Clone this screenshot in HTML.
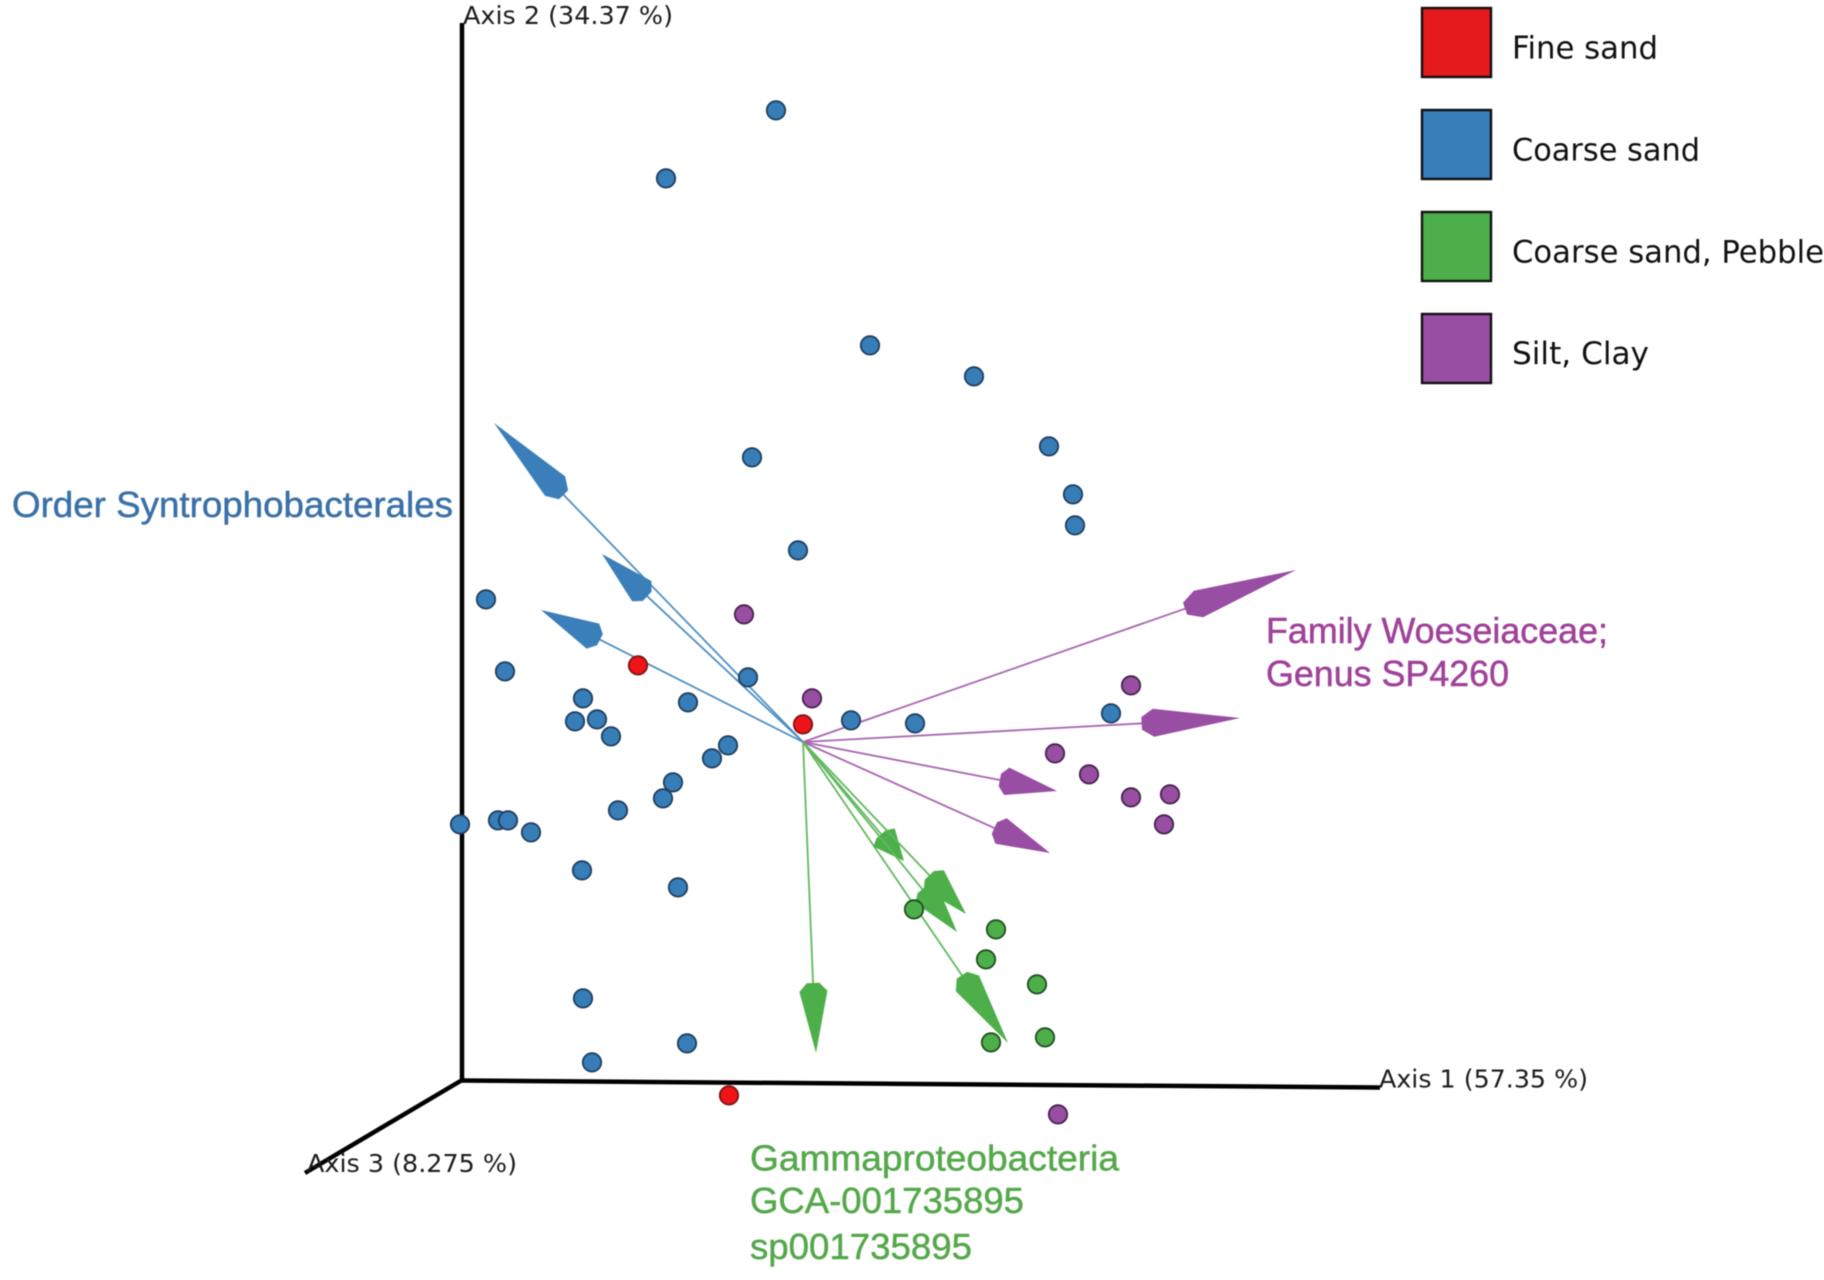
<!DOCTYPE html>
<html lang="en">
<head>
<meta charset="utf-8">
<title>PCoA biplot by sediment type</title>
<style>
html,body{margin:0;padding:0;background:#fff;}
svg{display:block;filter:blur(0.45px);}
.axis-label{font-family:"DejaVu Sans",sans-serif;font-size:25px;fill:#1c1c1c;}
.legend-label{font-family:"DejaVu Sans",sans-serif;font-size:31px;fill:#111;}
.annotation{font-family:"Liberation Sans",sans-serif;font-size:36px;stroke-width:0.5px;}
</style>
</head>
<body>
<svg id="chart" width="1824" height="1280" viewBox="0 0 1824 1280" xmlns="http://www.w3.org/2000/svg">
  <rect width="1824" height="1280" fill="#fff"/>
  <g id="axes">
    <line x1="462" y1="23" x2="462" y2="1080" stroke="#000" stroke-width="4.5"/>
    <line x1="460" y1="1080.5" x2="1380" y2="1087.5" stroke="#000" stroke-width="4.5"/>
    <line x1="463" y1="1079.5" x2="305" y2="1173" stroke="#000" stroke-width="4.5"/>
    <text class="axis-label" x="463" y="24" textLength="210" lengthAdjust="spacingAndGlyphs">Axis 2 (34.37 %)</text>
    <text class="axis-label" x="1379" y="1087.5" textLength="209" lengthAdjust="spacingAndGlyphs">Axis 1 (57.35 %)</text>
    <text class="axis-label" x="307" y="1172" textLength="210" lengthAdjust="spacingAndGlyphs">Axis 3 (8.275 %)</text>
  </g>
  <g id="arrows"></g>
  <g id="points"></g>
  <g id="annotations">
    <text class="annotation" x="12" y="517" fill="#3a71a8" stroke="#3a71a8" textLength="441" lengthAdjust="spacingAndGlyphs">Order Syntrophobacterales</text>
    <text class="annotation" x="1266" y="643" fill="#a0419a" stroke="#a0419a" textLength="342" lengthAdjust="spacingAndGlyphs">Family Woeseiaceae;</text>
    <text class="annotation" x="1266" y="686" fill="#a0419a" stroke="#a0419a" textLength="243" lengthAdjust="spacingAndGlyphs">Genus SP4260</text>
    <text class="annotation" x="750" y="1170.5" fill="#55a84b" stroke="#55a84b" textLength="369" lengthAdjust="spacingAndGlyphs">Gammaproteobacteria</text>
    <text class="annotation" x="750" y="1213" fill="#55a84b" stroke="#55a84b" textLength="274" lengthAdjust="spacingAndGlyphs">GCA-001735895</text>
    <text class="annotation" x="750" y="1259" fill="#55a84b" stroke="#55a84b" textLength="222" lengthAdjust="spacingAndGlyphs">sp001735895</text>
  </g>
  <g id="legend">
    <g>
      <rect x="1422" y="8" width="69" height="69" fill="#e41a1c" stroke="#111" stroke-width="2.4"/>
      <text class="legend-label" x="1512" y="58.5" textLength="146" lengthAdjust="spacingAndGlyphs">Fine sand</text>
    </g>
    <g>
      <rect x="1422" y="110" width="69" height="69" fill="#377eb8" stroke="#111" stroke-width="2.4"/>
      <text class="legend-label" x="1512" y="160.5" textLength="188" lengthAdjust="spacingAndGlyphs">Coarse sand</text>
    </g>
    <g>
      <rect x="1422" y="212" width="69" height="69" fill="#4daf4a" stroke="#111" stroke-width="2.4"/>
      <text class="legend-label" x="1512" y="262.5" textLength="312" lengthAdjust="spacingAndGlyphs">Coarse sand, Pebble</text>
    </g>
    <g>
      <rect x="1422" y="314" width="69" height="69" fill="#984ea3" stroke="#111" stroke-width="2.4"/>
      <text class="legend-label" x="1512" y="364" textLength="137" lengthAdjust="spacingAndGlyphs">Silt, Clay</text>
    </g>
  </g>
</svg>
<script>
// Sample scores (Axis 1, Axis 2 in ordination units)
var coarseSandAxis1 = [-0.027,-0.137,0.067,0.171,0.246,0.270,0.272,-0.051,-0.005,-0.317,-0.298,-0.055,-0.220,-0.115,-0.228,-0.206,-0.192,-0.075,-0.091,-0.130,-0.140,0.048,0.112,0.308,-0.185,-0.343,-0.305,-0.295,-0.272,-0.221,-0.125,-0.220,-0.116,-0.211];
var coarseSandAxis2 = [0.632,0.564,0.397,0.366,0.296,0.248,0.217,0.285,0.192,0.143,0.071,0.065,0.044,0.040,0.021,0.023,0.006,-0.003,-0.016,-0.040,-0.056,0.022,0.019,0.029,-0.068,-0.082,-0.078,-0.078,-0.090,-0.128,-0.145,-0.256,-0.301,-0.320];
var fineSandAxis1 = [-0.165,0.000,-0.074];
var fineSandAxis2 = [0.077,0.018,-0.353];
var pebbleAxis1 = [0.111,0.193,0.183,0.234,0.242,0.188];
var pebbleAxis2 = [-0.167,-0.187,-0.217,-0.242,-0.295,-0.300];
var siltClayAxis1 = [-0.059,0.009,0.328,0.252,0.286,0.328,0.367,0.361,0.255];
var siltClayAxis2 = [0.128,0.044,0.057,-0.011,-0.032,-0.055,-0.052,-0.082,-0.372];

// Biplot arrow loadings (Axis 1, Axis 2)
var blueArrowAxis1 = [-0.309,-0.201,-0.262];
var blueArrowAxis2 = [0.319,0.188,0.132];
var purpleArrowAxis1 = [0.493,0.437,0.254,0.247];
var purpleArrowAxis2 = [0.172,0.024,-0.049,-0.111];
var greenArrowAxis1 = [0.205,0.013,0.101,0.163,0.154];
var greenArrowAxis2 = [-0.301,-0.311,-0.119,-0.172,-0.190];

var SVG_NS = 'http://www.w3.org/2000/svg';
function xScale(v){ return 803 + v * 1000; }
function yScale(v){ return 742 - v * 1000; }

var arrowLayer = document.getElementById('arrows');
var pointLayer = document.getElementById('points');

function drawArrows(xs, ys, fill, shaft, label){
  var ox = xScale(0), oy = yScale(0);
  for (var i = 0; i < xs.length; i++){
    var tx = xScale(xs[i]), ty = yScale(ys[i]);
    var dx = tx - ox, dy = ty - oy, len = Math.sqrt(dx*dx + dy*dy);
    var ux = dx/len, uy = dy/len, px = -uy, py = ux;
    var L = len * 0.225, W = 14;
    function pt(back, side){ return (tx - ux*back + px*side).toFixed(1) + ',' + (ty - uy*back + py*side).toFixed(1); }
    var line = document.createElementNS(SVG_NS, 'line');
    line.setAttribute('x1', ox);
    line.setAttribute('y1', oy);
    line.setAttribute('x2', tx - ux*L*0.9);
    line.setAttribute('y2', ty - uy*L*0.9);
    line.setAttribute('stroke', shaft);
    line.setAttribute('stroke-width', '1.8');
    
    
    arrowLayer.appendChild(line);
    var head = document.createElementNS(SVG_NS, 'polygon');
    head.setAttribute('points', [pt(0,0), pt(L*0.88,W), pt(L,W*0.45), pt(L,-W*0.45), pt(L*0.88,-W)].join(' '));
    head.setAttribute('fill', fill);
    
    
    arrowLayer.appendChild(head);
  }
}

function drawPoints(xs, ys, fill, edge, label){
  for (var i = 0; i < xs.length; i++){
    var c = document.createElementNS(SVG_NS, 'circle');
    c.setAttribute('cx', xScale(xs[i]));
    c.setAttribute('cy', yScale(ys[i]) + 0.4);
    c.setAttribute('r', '9.2');
    c.setAttribute('fill', fill);
    c.setAttribute('stroke', edge);
    c.setAttribute('stroke-width', '1.8');
    
    
    pointLayer.appendChild(c);
  }
}

drawArrows(blueArrowAxis1, blueArrowAxis2, '#3b7fba', '#4f8fc4', 'syntrophobacterales');
drawArrows(purpleArrowAxis1, purpleArrowAxis2, '#984ea3', '#a766b0', 'woeseiaceae');
drawArrows(greenArrowAxis1, greenArrowAxis2, '#4daf4a', '#62b85f', 'gammaproteobacteria');

drawPoints(coarseSandAxis1, coarseSandAxis2, '#377eb8', '#1f3f5f', 'coarse-sand');
drawPoints(fineSandAxis1, fineSandAxis2, '#f01418', '#7a1518', 'fine-sand');
drawPoints(pebbleAxis1, pebbleAxis2, '#4daf4a', '#1f4f20', 'coarse-sand-pebble');
drawPoints(siltClayAxis1, siltClayAxis2, '#984ea3', '#45244c', 'silt-clay');
</script>
</body>
</html>
